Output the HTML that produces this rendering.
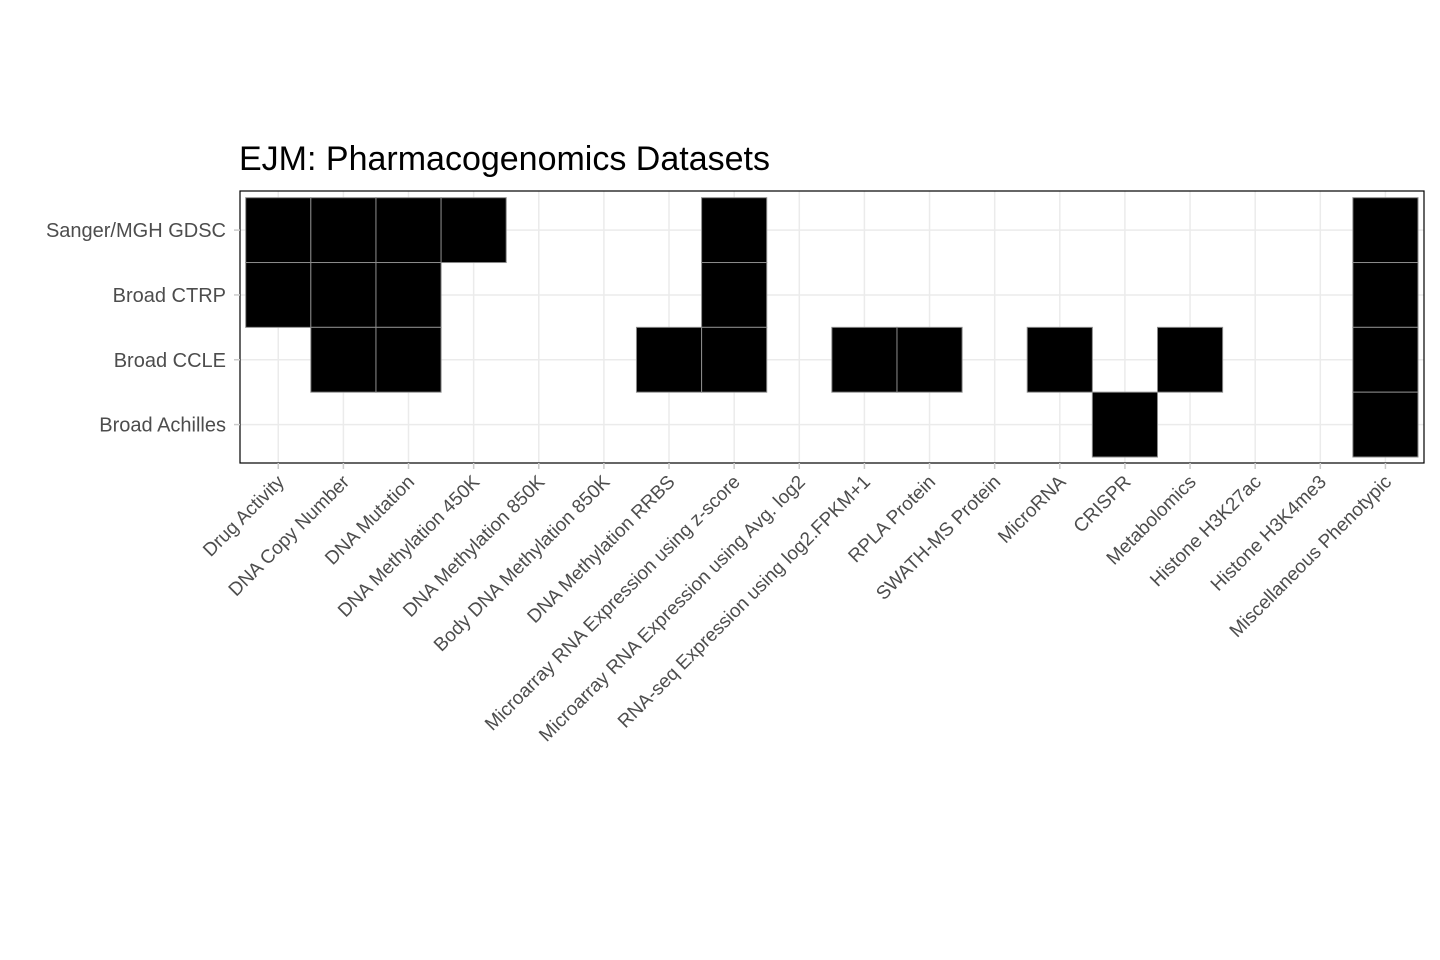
<!DOCTYPE html>
<html><head><meta charset="utf-8"><style>body{margin:0;background:#fff}svg{display:block}</style></head>
<body>
<svg id="chart" width="1440" height="960" xmlns="http://www.w3.org/2000/svg" font-family="Liberation Sans, sans-serif">
<rect width="1440" height="960" fill="#fff"/>
<text x="239" y="170" font-size="34" fill="#000">EJM: Pharmacogenomics Datasets</text>
<g id="grid"></g><g id="tiles"></g>
<rect x="240" y="191" width="1184" height="272" fill="none" stroke="#000" stroke-width="1.2"/>
<g id="axes"></g>
</svg>
<script>
const categories = ["Drug Activity","DNA Copy Number","DNA Mutation","DNA Methylation 450K","DNA Methylation 850K","Body DNA Methylation 850K","DNA Methylation RRBS","Microarray RNA Expression using z-score","Microarray RNA Expression using Avg. log2","RNA-seq Expression using log2.FPKM+1","RPLA Protein","SWATH-MS Protein","MicroRNA","CRISPR","Metabolomics","Histone H3K27ac","Histone H3K4me3","Miscellaneous Phenotypic"];
const datasets = ["Sanger/MGH GDSC","Broad CTRP","Broad CCLE","Broad Achilles"];
const presence = [
 [1,1,1,1,0,0,0,1,0,0,0,0,0,0,0,0,0,1],
 [1,1,1,0,0,0,0,1,0,0,0,0,0,0,0,0,0,1],
 [0,1,1,0,0,0,1,1,0,1,1,0,1,0,1,0,0,1],
 [0,0,0,0,0,0,0,0,0,0,0,0,0,1,0,0,0,1]
];
const NS="http://www.w3.org/2000/svg";
const x0=245.7, x1=1418, y0=197.7, y1=457;
const cw=(x1-x0)/categories.length, rh=(y1-y0)/datasets.length;
const xc=i=>x0+cw*(i+0.5), yc=j=>y0+rh*(j+0.5);
function mk(tag,attrs,parent){const e=document.createElementNS(NS,tag);for(const k in attrs)e.setAttribute(k,attrs[k]);parent.appendChild(e);return e;}
const grid=document.getElementById('grid'),tiles=document.getElementById('tiles'),axes=document.getElementById('axes');
categories.forEach((c,i)=>{
  const g=mk('line',{x1:xc(i),x2:xc(i),y1:191,y2:463,stroke:'#ebebeb','stroke-width':1.5},grid);
  
  
  const t=mk('line',{x1:xc(i),x2:xc(i),y1:463,y2:469,stroke:'#cccccc','stroke-width':1.5},axes);
  
  
  const X=xc(i)+7,Y=483;
  const l=mk('text',{x:X,y:Y,'text-anchor':'end','font-size':19,fill:'#4d4d4d',transform:`rotate(-45 ${X} ${Y})`},axes);
  l.textContent=c;
  
  
});
datasets.forEach((d,j)=>{
  const g=mk('line',{x1:240,x2:1424,y1:yc(j),y2:yc(j),stroke:'#ebebeb','stroke-width':1.5},grid);
  
  
  const t=mk('line',{x1:234,x2:240,y1:yc(j),y2:yc(j),stroke:'#cccccc','stroke-width':1.5},axes);
  
  
  const l=mk('text',{x:226,y:yc(j)+7,'text-anchor':'end','font-size':20,fill:'#4d4d4d'},axes);
  l.textContent=d;
  
  
  presence[j].forEach((v,i)=>{
    if(!v)return;
    const r=mk('rect',{x:x0+cw*i,y:y0+rh*j,width:cw,height:rh,fill:'#000',stroke:'#8a8a8a','stroke-width':1},tiles);
    
    
  });
});
</script>
</body></html>
